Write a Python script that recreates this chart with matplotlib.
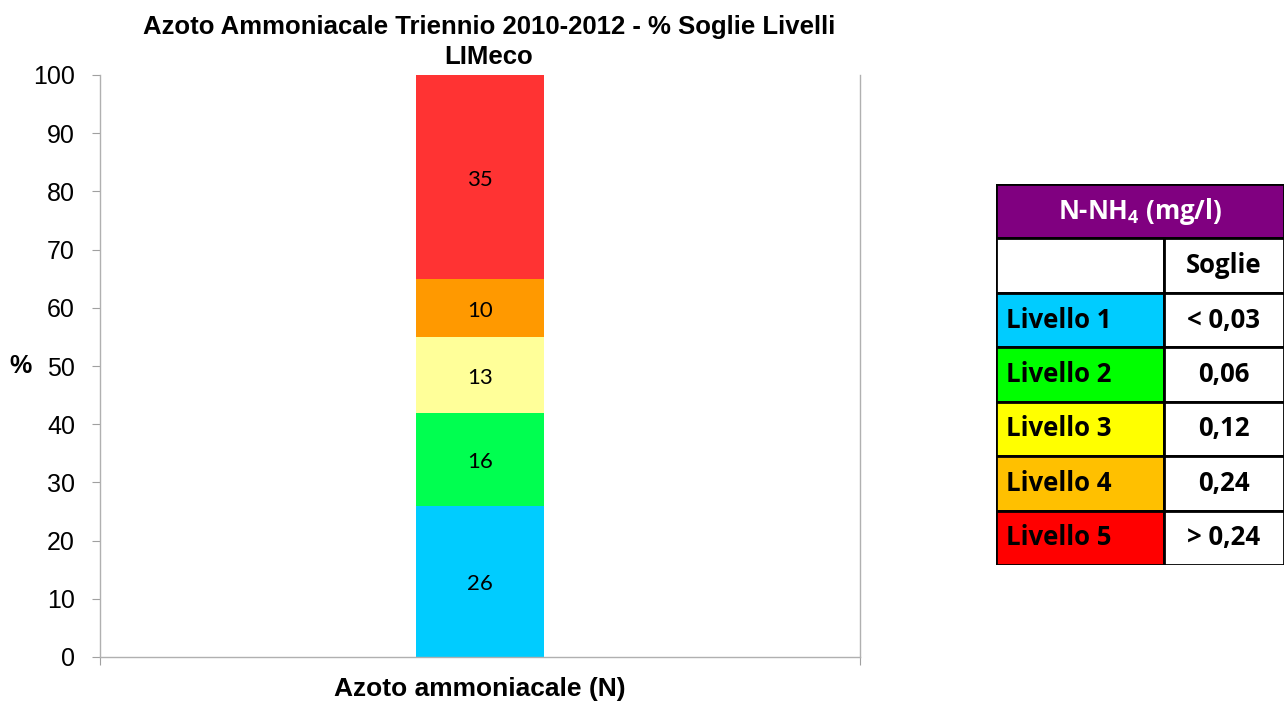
import matplotlib.pyplot as plt
from matplotlib.patches import Rectangle

# data
category = "Azoto ammoniacale (N)"
level_values = [26, 16, 13, 10, 35]
bar_colors = ["#00CCFF", "#00FF50", "#FFFF99", "#FF9900", "#FF3333"]

levels = ["Livello 1", "Livello 2", "Livello 3", "Livello 4", "Livello 5"]
thresholds = ["< 0,03", "0,06", "0,12", "0,24", "> 0,24"]
table_colors = ["#00CCFF", "#00FF00", "#FFFF00", "#FFC000", "#FF0000"]

plt.rcParams["font.family"] = ["Liberation Sans", "DejaVu Sans"]

fig = plt.figure(figsize=(12.85, 7.02), dpi=100)
ax = fig.add_axes([100 / 1285, 1 - 657 / 702, 760 / 1285, 582 / 702])

bottom = 0
for val, col in zip(level_values, bar_colors):
    ax.bar(0, val, width=0.168, bottom=bottom, color=col, edgecolor="none", zorder=2)
    ax.text(0, bottom + val / 2 - 0.5, str(val), ha="center", va="center",
            fontsize=16, family=["Lato", "DejaVu Sans"])
    bottom += val

ax.set_xlim(-0.5, 0.5)
ax.set_ylim(0, 100)
ax.set_yticks(range(0, 101, 10))
ax.set_xticks([-0.5, 0.5])
ax.set_xticklabels(["", ""])
ax.tick_params(axis="y", labelsize=18, length=6, color="#A0A0A0", pad=12)
ax.tick_params(axis="x", length=6, color="#A0A0A0")
ax.spines["top"].set_visible(False)
for s in ["left", "bottom", "right"]:
    ax.spines[s].set_color("#B0B0B0")
    ax.spines[s].set_linewidth(1)

ax.text(-0.105, 0.5, "%", transform=ax.transAxes, ha="center", va="center",
        fontsize=18, fontweight="bold")
ax.text(0.5, -0.055, category, transform=ax.transAxes, ha="center", va="center",
        fontsize=19, fontweight="bold")
ax.set_title("Azoto Ammoniacale Triennio 2010-2012 - % Soglie Livelli\nLIMeco",
             fontsize=18.5, fontweight="bold", pad=8, linespacing=1.33, x=0.512)

# threshold table
tax = fig.add_axes([996 / 1285, 1 - 565 / 702, 288 / 1285, 381 / 702])
tax.set_xlim(0, 1)
tax.set_ylim(0, 7)
tax.axis("off")
split = 0.583
tfont = ["Open Sans", "DejaVu Sans"]
tsize = 18.5
lw = 2

tax.add_patch(Rectangle((0, 6), 1, 1, facecolor="#800080", edgecolor="black", lw=lw))
tax.text(0.5, 6.5, "N-NH$_\\mathregular{4}$ (mg/l)", ha="center", va="center", color="white",
         fontsize=tsize, fontweight="bold", family=tfont)
tax.add_patch(Rectangle((0, 5), split, 1, facecolor="white", edgecolor="black", lw=lw))
tax.add_patch(Rectangle((split, 5), 1 - split, 1, facecolor="white", edgecolor="black", lw=lw))
tax.text((split + 1) / 2, 5.5, "Soglie", ha="center", va="center",
         fontsize=tsize, fontweight="bold", family=tfont)
for i, (lev, thr, col) in enumerate(zip(levels, thresholds, table_colors)):
    y = 4 - i
    tax.add_patch(Rectangle((0, y), split, 1, facecolor=col, edgecolor="black", lw=lw))
    tax.add_patch(Rectangle((split, y), 1 - split, 1, facecolor="white", edgecolor="black", lw=lw))
    tax.text(0.035, y + 0.5, lev, ha="left", va="center",
             fontsize=tsize, fontweight="bold", family=tfont)
    tax.text((split + 1) / 2, y + 0.5, thr, ha="center", va="center",
             fontsize=tsize, fontweight="bold", family=tfont)

fig.savefig("out.png", dpi=100)
